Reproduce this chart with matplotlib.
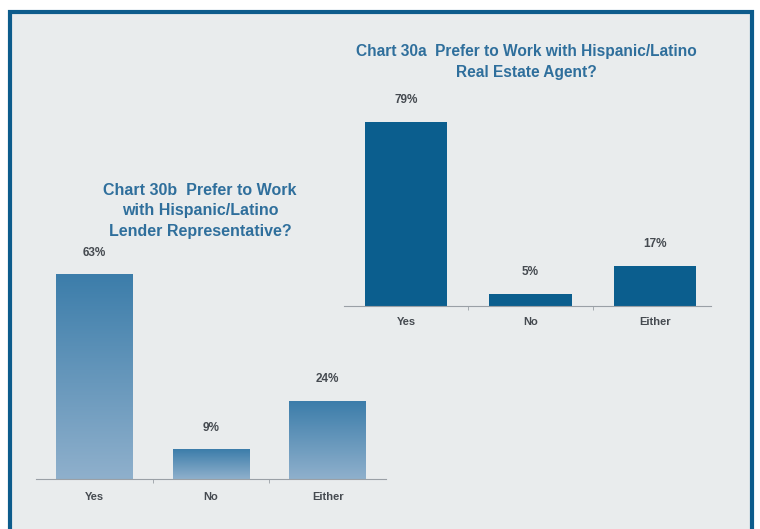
import matplotlib.pyplot as plt
import matplotlib.patches as mpatches
import numpy as np
from matplotlib.colors import LinearSegmentedColormap

plt.rcParams['font.family'] = ['Liberation Sans', 'DejaVu Sans']

categories = ['Yes', 'No', 'Either']
agent_pct = [79, 5, 17]
lender_pct = [63, 9, 24]

title_agent = 'Chart 30a  Prefer to Work with Hispanic/Latino\nReal Estate Agent?'
title_lender = 'Chart 30b  Prefer to Work\nwith Hispanic/Latino\nLender Representative?'

panel_bg = '#e9eced'
frame_col = '#0d5c8c'
title_col = '#2f6f9c'
text_col = '#454a50'

fig = plt.figure(figsize=(7.6, 5.29), dpi=100, facecolor='white')

# grey panel with a dark blue frame, kept behind the axes
W, H = 760, 529
fig.patches.append(mpatches.Rectangle((9.5 / W, -0.05), 742 / W, (H - 11.5) / H + 0.05,
                                      transform=fig.transFigure, facecolor=panel_bg,
                                      edgecolor=frame_col, linewidth=3, zorder=-5))


def style_axis(ax):
    ax.set_facecolor('none')
    for s in ['top', 'right', 'left']:
        ax.spines[s].set_visible(False)
    ax.spines['bottom'].set_color('#9aa0a6')
    ax.spines['bottom'].set_linewidth(0.8)
    ax.set_yticks([])
    ax.set_xlim(-0.5, 2.5)
    ax.set_ylim(0, 100)
    ax.set_xticks([0.5, 1.5], minor=True)
    ax.tick_params(axis='x', which='minor', length=3, color='#9aa0a6', width=0.6, direction='out')
    ax.tick_params(axis='x', which='major', length=0, pad=8, labelsize=8, labelcolor=text_col)
    ax.set_xticks(range(len(categories)))
    ax.set_xticklabels(categories, fontweight='bold')


def add_labels(ax, values):
    for i, v in enumerate(values):
        ax.annotate(f'{v}%', (i, v), xytext=(0, 16), textcoords='offset points',
                    ha='center', va='center', fontsize=8.5, fontweight='bold', color=text_col)


# Chart 30a - solid bars
ax1 = fig.add_axes([344 / W, (H - 306) / H, 373 / W, 233 / H])
style_axis(ax1)
ax1.bar(range(len(categories)), agent_pct, width=0.66, color='#0b5e8e', zorder=2)
ax1.spines['bottom'].set_bounds(-0.5, 2.45)
add_labels(ax1, agent_pct)
fig.text(526 / W, 1 - 62 / H, title_agent, ha='center', va='center', fontsize=11.2,
         fontweight='bold', color=title_col, linespacing=1.43)

# Chart 30b - gradient bars
ax2 = fig.add_axes([36 / W, (H - 479) / H, 350 / W, 324 / H])
style_axis(ax2)
bars = ax2.bar(range(len(categories)), lender_pct, width=0.66, color='none', zorder=2)
cmap = LinearSegmentedColormap.from_list('fade', ['#8fb0cc', '#3c7daa'])
grad = np.linspace(0, 1, 256).reshape(-1, 1)
for b in bars:
    x0 = b.get_x()
    ax2.imshow(grad, cmap=cmap, origin='lower', aspect='auto',
               extent=[x0, x0 + b.get_width(), 0, b.get_height()], zorder=1)
ax2.set_xlim(-0.5, 2.5)
ax2.set_ylim(0, 100)
ax2.tick_params(axis='x', which='major', pad=9)
add_labels(ax2, lender_pct)
fig.text(200 / W, 1 - 211 / H, title_lender, ha='center', va='center', fontsize=11.5,
         fontweight='bold', color=title_col, linespacing=1.46)

fig.savefig('out.png', dpi=100, facecolor='white')
